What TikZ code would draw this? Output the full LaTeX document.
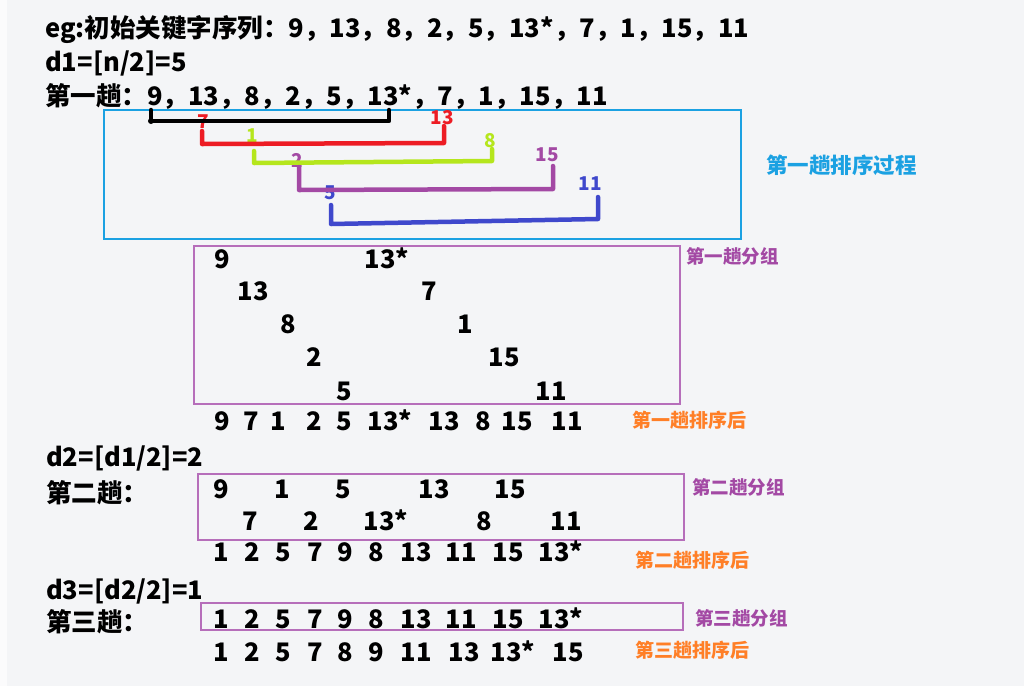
\documentclass[tikz,border=0pt]{standalone}
\usepackage{fontspec}
\setmainfont{Noto Sans CJK SC}
\definecolor{bgc}{RGB}{244,245,247}
\definecolor{cyanb}{RGB}{27,161,226}
\definecolor{redb}{RGB}{237,28,36}
\definecolor{limeb}{RGB}{181,230,29}
\definecolor{purb}{RGB}{163,73,164}
\definecolor{blueb}{RGB}{63,72,204}
\definecolor{boxp}{RGB}{182,110,186}
\definecolor{orng}{RGB}{255,127,39}
\tikzset{
  big/.style={font=\bfseries\fontsize{25.5}{25.5}\selectfont, inner sep=0pt},
  txt/.style={big, anchor=base west},
  num/.style={big, anchor=base},
  lab/.style={font=\bfseries\fontsize{19}{19}\selectfont, inner sep=0pt, anchor=center},
  side/.style={font=\bfseries\fontsize{19}{19}\selectfont, inner sep=0pt, anchor=west},
  brk/.style={line width=4.5pt, line cap=round, line join=round},
  pbox/.style={draw=boxp, line width=1.5pt}
}
\begin{document}
\begin{tikzpicture}[x=1pt,y=-1pt]
\fill[bgc] (0,0) rectangle (1024,686);
\fill[white!60!bgc] (0,0) rectangle (7,686);
\useasboundingbox (0,0) rectangle (1024,686);

% header lines
\node[txt] (l1) at (45,37) {eg:初始关键字序列：9，13，8，2，5，13*，7，1，15，11};
\node[txt] (l2) at (45,71) {d1=[n/2]=5};
\node[txt] (l3) at (45,105) {第一趟：9，13，8，2，5，13*，7，1，15，11};

% first pass process box
\node[draw=cyanb, line width=2pt, inner sep=0pt, minimum width=637pt, minimum height=129pt, anchor=north west] (pbox1) at (103,109) {};
\node[side, font=\bfseries\fontsize{21.5}{21.5}\selectfont, text=cyanb] (t1) at (766,165) {第一趟排序过程};

% bracket labels
\node[lab, text=redb] (r7) at (203,122) {7};
\node[lab, text=redb] (r13) at (442,118) {13};
\node[lab, text=limeb] (g1) at (252,136) {1};
\node[lab, text=limeb] (g8) at (490,141) {8};
\node[lab, text=purb] (p2) at (297,160) {2};
\node[lab, text=purb] (p15) at (547,155) {15};
\node[lab, text=blueb] (b5) at (330,193) {5};
\node[lab, text=blueb] (b11) at (590,184) {11};

% bracket end points
\coordinate (k1) at (151,110); \coordinate (k2) at (389,110);
\coordinate (rr1) at (202,131); \coordinate (rr2) at (444,126);
\coordinate (gg1) at (254,151); \coordinate (gg2) at (492,149);
\coordinate (pp1) at (299,167); \coordinate (pp2) at (553,166);
\coordinate (bb1) at (331,205); \coordinate (bb2) at (598,197);

\draw[brk, black] (k1) -- (151,121) -- (389,121) -- (k2);
\fill (151,121) circle (3pt);
\draw[brk, redb] (rr1) -- (202,144) -- (444,143) -- (rr2);
\draw[brk, limeb] (gg1) -- (254,163) -- (492,161) -- (gg2);
\draw[brk, purb] (pp1) -- (299,190) -- (553,189) -- (pp2);
\draw[brk, blueb] (bb1) -- (331,224) -- (598,219) -- (bb2);

% first pass groups
\node[pbox, inner sep=0pt, minimum width=486pt, minimum height=158pt, anchor=north west] (g1box) at (193,245) {};
\node[side, font=\bfseries\fontsize{18.5}{18.5}\selectfont, text=purb] (s1) at (686,256) {第一趟分组};
\node[num] (a1) at (222,268.5) {9};   \node[num] (a6) at (387,268.5) {13*};
\node[num] (a2) at (253,300.5) {13};  \node[num] (a7) at (429,300.5) {7};
\node[num] (a3) at (288,333.5) {8};   \node[num] (a8) at (465,333.5) {1};
\node[num] (a4) at (314,366.5) {2};   \node[num] (a9) at (504,366.5) {15};
\node[num] (a5) at (344,400) {5};     \node[num] (a10) at (551,400) {11};

% after first pass
\foreach \x/\v [count=\i] in {222/9,251/7,278/1,314/2,344/5,390/13*,444/13,483/8,517/15,567/11}
  \node[num] (f\i) at (\x,430.5) {\v};
\node[side, text=orng] (o1) at (632,420) {第一趟排序后};

% second pass
\node[txt] (l4) at (46,466) {d2=[d1/2]=2};
\node[txt] (l5) at (46,502) {第二趟：};
\node[pbox, inner sep=0pt, minimum width=486pt, minimum height=66pt, anchor=north west] (g2box) at (197,473) {};
\node[side, font=\bfseries\fontsize{18.5}{18.5}\selectfont, text=purb] (s2) at (692,487) {第二趟分组};
\foreach \x/\v [count=\i] in {221/9,282/1,343/5,434/13,510/15}
  \node[num] (c\i) at (\x,498.5) {\v};
\foreach \x/\v [count=\i] in {250/7,311/2,386/13*,484/8,566/11}
  \node[num] (d\i) at (\x,530.5) {\v};
\foreach \x/\v [count=\i] in {221/1,252/2,283/5,315/7,345/9,376/8,416/13,461/11,508/15,561/13*}
  \node[num] (e\i) at (\x,561.5) {\v};
\node[side, text=orng] (o2) at (635,560) {第二趟排序后};

% third pass
\node[txt] (l6) at (46,599) {d3=[d2/2]=1};
\node[txt] (l7) at (46,631) {第三趟：};
\node[pbox, inner sep=0pt, minimum width=482pt, minimum height=27pt, anchor=north west] (g3box) at (200,602) {};
\node[side, font=\bfseries\fontsize{18.5}{18.5}\selectfont, text=purb] (s3) at (695,618) {第三趟分组};
\foreach \x/\v [count=\i] in {221/1,252/2,283/5,315/7,345/9,376/8,416/13,461/11,508/15,561/13*}
  \node[num] (h\i) at (\x,628.5) {\v};
\foreach \x/\v [count=\i] in {221/1,252/2,283/5,315/7,345/8,376/9,416/11,464/13,513/13*,568/15}
  \node[num] (m\i) at (\x,661.5) {\v};
\node[side, text=orng] (o3) at (635,650) {第三趟排序后};
\end{tikzpicture}
\end{document}
